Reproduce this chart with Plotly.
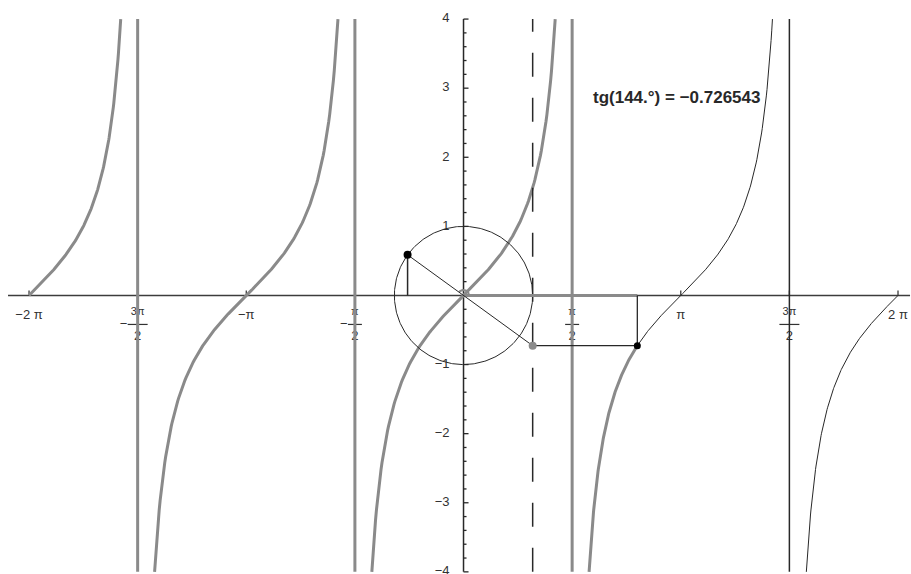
import numpy as np
import plotly.graph_objects as go

# ---- data ----------------------------------------------------------------
angle_deg = 144.0                       # angle shown on the unit circle
tan_value = -0.726543                   # tg(144°) as printed in the label
y_limit = 4.0                           # vertical extent of the plot
x_tick_vals = [-2 * np.pi, -1.5 * np.pi, -np.pi, -0.5 * np.pi,
               0.5 * np.pi, np.pi, 1.5 * np.pi, 2 * np.pi]
x_tick_num = ["−2 π", "3π", "−π", "π", "π", "π", "3π", "2 π"]
x_tick_den = [None, "2", None, "2", "2", None, "2", None]
x_tick_neg = [False, True, False, True, False, False, False, False]
y_tick_vals = [4, 3, 2, 1, -1, -2, -3, -4]
y_tick_text = ["4", "3", "2", "1", "−1", "−2", "−3", "−4"]
asymptotes_gray = [-1.5 * np.pi, -0.5 * np.pi, 0.5 * np.pi]
asymptotes_black = [1.5 * np.pi]

theta = np.deg2rad(angle_deg)
GRAY = "rgb(138,138,138)"
DARK = "rgb(40,40,40)"
AXIS = "rgb(60,60,60)"
LABEL = "rgb(50,50,50)"
U = 1 / 69.15                           # one screen pixel in data units

fig = go.Figure()


def seg(xs, ys, color, width, dash=None):
    fig.add_trace(go.Scatter(x=xs, y=ys, mode="lines", hoverinfo="skip",
                             line=dict(color=color, width=width, dash=dash)))


def txt(xs, ys, texts, pos, size=12, color=LABEL):
    fig.add_trace(go.Scatter(x=xs, y=ys, mode="text", text=texts,
                             textposition=pos, hoverinfo="skip",
                             textfont=dict(family="Liberation Sans", size=size, color=color)))


# ---- tick labels (drawn first so the asymptotes pass over them) -----------
for xv, num, den, neg in zip(x_tick_vals, x_tick_num, x_tick_den, x_tick_neg):
    if den is None:
        txt([xv], [-20.5 * U], [num], "middle center", size=13)
    else:
        half = (10 if len(num) > 1 else 7) * U
        txt([xv], [-17 * U], [num], "middle center", size=11)
        seg([xv - half, xv + half], [-29 * U, -29 * U], LABEL, 1.2)
        txt([xv], [-41 * U], [den], "middle center", size=13)
        if neg:
            txt([xv - half - 4 * U], [-29 * U], ["−"], "middle center", size=13)

txt([-14 * U] * len(y_tick_vals), y_tick_vals, y_tick_text, "middle left", size=13)

# ---- axes ---------------------------------------------------------------
seg([-6.587, 6.457], [0, 0], AXIS, 1.5)
seg([0, 0], [-y_limit, y_limit], DARK, 1.5)

xt_x, xt_y = [], []
for xv in x_tick_vals:
    xt_x += [xv, xv, None]
    xt_y += [0, 5 * U, None]
seg(xt_x, xt_y, AXIS, 1.3)

yt_x, yt_y = [], []
for k in range(-20, 21):
    v = k * 0.2
    if k == 0:
        continue
    ln = 5 * U if k % 5 == 0 else 3 * U
    yt_x += [0, ln, None]
    yt_y += [v, v, None]
seg(yt_x, yt_y, DARK, 1.3)

# ---- tangent graph --------------------------------------------------------
reach = np.arctan(y_limit)


def branch(a, b):
    xs = np.linspace(a, b, 200)
    return list(xs) + [None], list(np.tan(xs)) + [None]


gx, gy, bx, by = [], [], [], []
for k in range(-2, 3):
    a = max(k * np.pi - reach, -2 * np.pi)
    b = min(k * np.pi + reach, 2 * np.pi)
    if b <= theta:
        xs, ys = branch(a, b)
        gx += xs; gy += ys
    elif a >= theta:
        xs, ys = branch(a, b)
        bx += xs; by += ys
    else:
        xs, ys = branch(a, theta)
        gx += xs; gy += ys
        xs, ys = branch(theta, b)
        bx += xs; by += ys
seg(gx, gy, GRAY, 3)
seg(bx, by, DARK, 1)

# asymptotes
ax_, ay_ = [], []
for a in asymptotes_gray:
    ax_ += [a, a, None]; ay_ += [-y_limit, y_limit, None]
seg(ax_, ay_, GRAY, 3)
bx_, by_ = [], []
for a in asymptotes_black:
    bx_ += [a, a, None]; by_ += [-y_limit, y_limit, None]
seg(bx_, by_, DARK, 1.5)

# tangent line x = 1 (dashed)
seg([1, 1], [-y_limit, y_limit], DARK, 1.5, dash="24px,21px")

# ---- unit circle construction --------------------------------------------
t = np.linspace(0, 2 * np.pi, 361)
seg(np.cos(t), np.sin(t), DARK, 1)

px, py = np.cos(theta), np.sin(theta)
seg([0, theta], [0, 0], GRAY, 3)                      # arc length on the x-axis
ta = np.linspace(0, theta, 40)
seg(0.08 * np.cos(ta), 0.08 * np.sin(ta), GRAY, 2)    # angle mark
seg([px, px], [0, py], DARK, 1.5)                     # sine segment
seg([px, 1], [py, tan_value], DARK, 1)                # ray through the origin
seg([1, theta], [tan_value, tan_value], DARK, 1.3)    # carry tg value across
seg([theta, theta], [0, tan_value], DARK, 1.3)

fig.add_trace(go.Scatter(x=[px], y=[py], mode="markers", hoverinfo="skip",
                         marker=dict(color="black", size=8)))
fig.add_trace(go.Scatter(x=[1], y=[tan_value], mode="markers", hoverinfo="skip",
                         marker=dict(color=GRAY, size=8)))
fig.add_trace(go.Scatter(x=[theta], y=[tan_value], mode="markers", hoverinfo="skip",
                         marker=dict(color="black", size=7)))

fig.add_annotation(x=3.08, y=2.858, xref="x", yref="y", showarrow=False,
                   text="<b>tg(%g.°) = −%.6f</b>" % (angle_deg, abs(tan_value)),
                   font=dict(family="Liberation Sans", size=17, color="rgb(40,40,40)"))

fig.update_layout(
    width=911, height=574,
    margin=dict(l=0, r=0, t=0, b=0),
    paper_bgcolor="white", plot_bgcolor="white",
    showlegend=False,
    xaxis=dict(range=[-6.703, 6.471], visible=False, fixedrange=True),
    yaxis=dict(range=[-4.031, 4.276], visible=False, fixedrange=True),
)

fig.write_html("out.html")
